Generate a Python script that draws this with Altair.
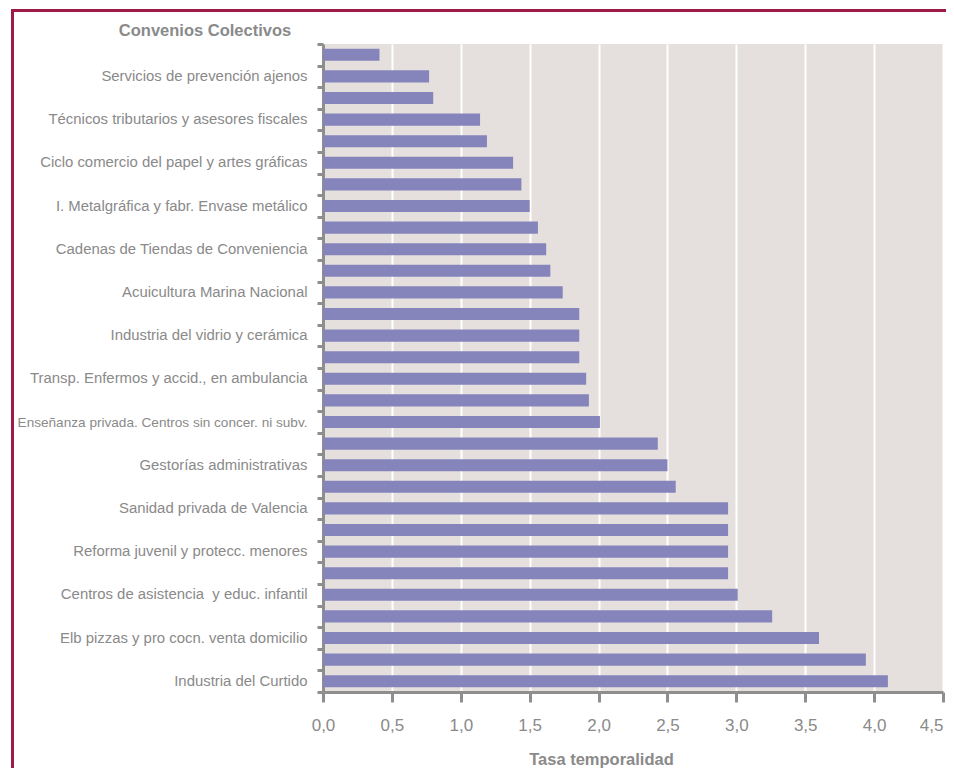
import json
import altair as alt
import pandas as pd

# ---- data (top to bottom) ----
labels = [
    "", "Servicios de prevención ajenos",
    "", "Técnicos tributarios y asesores fiscales",
    "", "Ciclo comercio del papel y artes gráficas",
    "", "I. Metalgráfica y fabr. Envase metálico",
    "", "Cadenas de Tiendas de Conveniencia",
    "", "Acuicultura Marina Nacional",
    "", "Industria del vidrio y cerámica",
    "", "Transp. Enfermos y accid., en ambulancia",
    "", "Enseñanza privada. Centros sin concer. ni subv.",
    "", "Gestorías administrativas",
    "", "Sanidad privada de Valencia",
    "", "Reforma juvenil y protecc. menores",
    "", "Centros de asistencia\u00a0 y educ. infantil",
    "", "Elb pizzas y pro cocn. venta domicilio",
    "", "Industria del Curtido",
]
values = [
    0.41, 0.77, 0.80, 1.14, 1.19, 1.38, 1.44, 1.50, 1.56, 1.62,
    1.65, 1.74, 1.86, 1.86, 1.86, 1.91, 1.93, 2.01, 2.43, 2.50,
    2.56, 2.94, 2.94, 2.94, 2.94, 3.01, 3.26, 3.60, 3.94, 4.10,
]
x_ticks = [0.0, 0.5, 1.0, 1.5, 2.0, 2.5, 3.0, 3.5, 4.0, 4.5]
x_title = "Tasa temporalidad"
y_title = "Convenios Colectivos"

df = pd.DataFrame({"idx": list(range(len(values))), "label": labels, "value": values})

GRAY = "#8e8e8e"
TEXT = "#8a8a8a"
BAR = "#8585bb"
FRAME = "#9e1b47"
FONT = "Liberation Sans, Arial, sans-serif"

label_expr = json.dumps(labels, ensure_ascii=False) + "[datum.value]"
long_idx = labels.index("Enseñanza privada. Centros sin concer. ni subv.")
last_tick = x_ticks[-1]

bars = alt.Chart(df).mark_bar(color=BAR, height={"band": 0.56}).encode(
    x=alt.X(
        "value:Q",
        scale=alt.Scale(domain=[0, 4.5], nice=False, zero=True),
        axis=alt.Axis(
            values=x_ticks,
            labelExpr="replace(format(datum.value, '.1f'), '.', ',')",
            title=x_title,
            grid=True, gridColor="white", gridWidth=2,
            domainColor=GRAY, domainWidth=3,
            tickColor=GRAY, tickWidth=3, tickSize=10,
            labelFont=FONT, labelFontSize=17, labelColor=TEXT,
            labelPadding=23, labelBaseline="middle",
            labelAlign={"condition": {"test": f"datum.value == {last_tick}", "value": "right"},
                        "value": "center"},
            labelOverlap=False, labelFlush=False,
            titleFont=FONT, titleFontSize=16.5, titleFontWeight="bold",
            titleColor=TEXT, titleX=278, titleY=67,
            titleAlign="center", titleBaseline="middle",
        ),
    ),
    y=alt.Y(
        "idx:O",
        scale=alt.Scale(paddingInner=0, paddingOuter=0),
        axis=alt.Axis(
            labelExpr=label_expr,
            tickBand="extent",
            tickColor=GRAY, tickWidth=3, tickSize=6,
            domainColor=GRAY, domainWidth=3,
            labelFont=FONT,
            labelFontSize={"condition": {"test": f"datum.value == {long_idx}", "value": 13.6},
                           "value": 14.9},
            labelColor=TEXT,
            labelPadding=10, labelOverlap=False, labelLimit=0,
            title=y_title, titleAngle=0, titleX=-118.5, titleY=-14,
            titleAlign="center", titleBaseline="middle",
            titleFont=FONT, titleFontSize=16.5, titleFontWeight="bold",
            titleColor=TEXT,
        ),
    ),
)

frame_df = pd.DataFrame({"k": [0]})
left_border = alt.Chart(frame_df).mark_rule(color=FRAME, strokeWidth=3).encode(
    x=alt.value(-310.5), y=alt.value(-33.5), y2=alt.value(760)
)
top_border = alt.Chart(frame_df).mark_rule(color=FRAME, strokeWidth=3).encode(
    x=alt.value(-312), x2=alt.value(640), y=alt.value(-33.5)
)

chart = (
    alt.layer(bars, left_border, top_border)
    .properties(
        width=620,
        height=648,
        padding={"left": 315, "top": 36, "right": 3, "bottom": 76},
        autosize=alt.AutoSizeParams(type="none"),
        background="white",
    )
    .configure_view(fill="#e5e0dd", strokeWidth=0)
)

chart.save("out.html", embed_options={"renderer": "svg", "actions": False})
